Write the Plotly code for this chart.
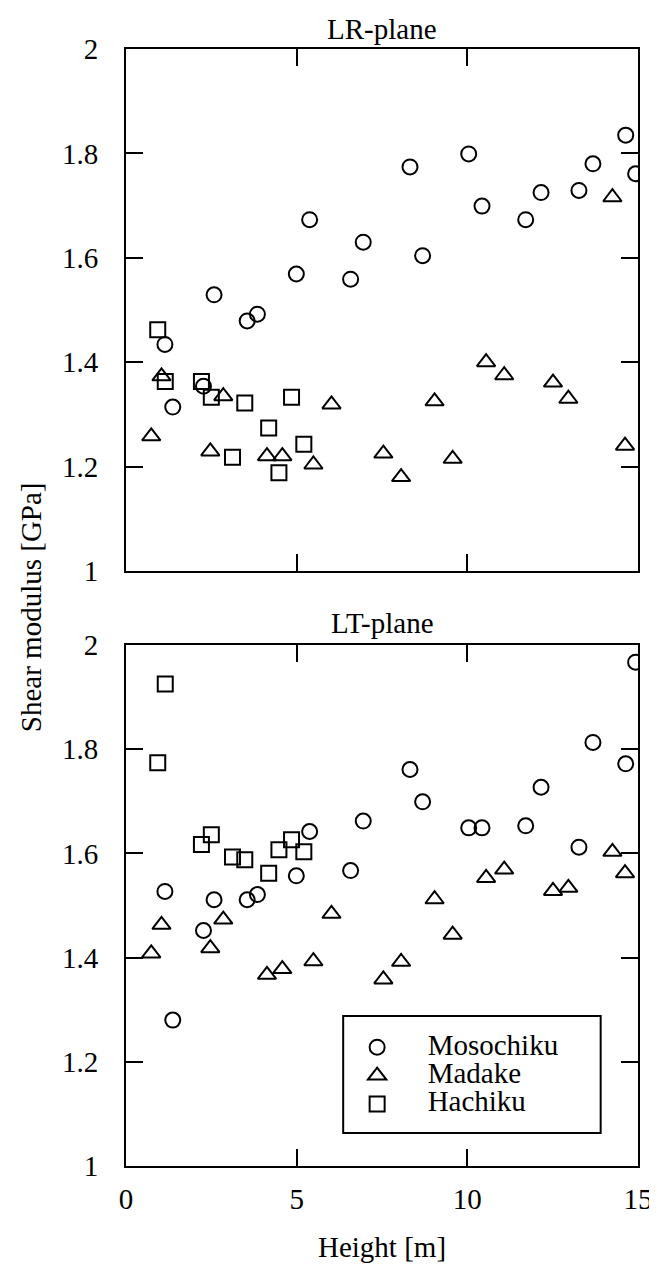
import plotly.graph_objects as go

# ---------------- data ----------------
moso_h = [1.14, 1.37, 2.27, 2.58, 3.55, 3.85, 4.99, 5.38, 6.58, 6.95,
          8.32, 8.69, 10.04, 10.43, 11.71, 12.16, 13.27, 13.68, 14.64, 14.93]
moso_lr = [1.434, 1.314, 1.354, 1.529, 1.479, 1.492, 1.569, 1.673, 1.559, 1.630,
           1.774, 1.604, 1.799, 1.699, 1.673, 1.725, 1.729, 1.780, 1.835, 1.761]
moso_lt = [1.527, 1.280, 1.452, 1.511, 1.511, 1.521, 1.557, 1.642, 1.567, 1.662,
           1.761, 1.699, 1.649, 1.649, 1.653, 1.727, 1.612, 1.813, 1.772, 1.967]

mada_h = [0.74, 1.04, 2.47, 2.85, 4.13, 4.58, 5.49, 6.02, 7.54, 8.06,
          9.04, 9.57, 10.55, 11.08, 12.51, 12.96, 14.25, 14.62]
mada_lr = [1.258, 1.373, 1.229, 1.335, 1.220, 1.220, 1.204, 1.319, 1.225, 1.180,
           1.325, 1.215, 1.400, 1.375, 1.361, 1.330, 1.716, 1.240]
mada_lt = [1.408, 1.463, 1.418, 1.473, 1.367, 1.378, 1.393, 1.484, 1.358, 1.392,
           1.512, 1.444, 1.553, 1.569, 1.528, 1.534, 1.603, 1.562]

hachi_h = [0.93, 1.15, 2.21, 2.50, 3.12, 3.48, 4.18, 4.48, 4.85, 5.21]
hachi_lr = [1.462, 1.363, 1.363, 1.333, 1.218, 1.322, 1.274, 1.188, 1.333, 1.243]
hachi_lt = [1.774, 1.925, 1.617, 1.636, 1.593, 1.588, 1.562, 1.607, 1.626, 1.603]

y_ticks = [1.0, 1.2, 1.4, 1.6, 1.8, 2.0]
y_ticktext = ["1", "1.2", "1.4", "1.6", "1.8", "2"]
x_ticks = [0, 5, 10, 15]
x_ticktext = ["0", "5", "10", "15"]

series_names = ["Mosochiku", "Madake", "Hachiku"]

FONT = "Liberation Serif, Times New Roman, serif"
FS = 29

W, H = 657, 1265
ml, mr, mt, mb = 118, 18, 41, 107
plot_w = W - ml - mr
plot_h = H - mt - mb


def px_x(p):
    return (p - ml) / plot_w


def px_y(p):
    return (H - mb - p) / plot_h


series = [
    (series_names[0], "circle-open", 15, moso_h, moso_lr, moso_lt),
    (series_names[1], "triangle-up-open", 16, mada_h, mada_lr, mada_lt),
    (series_names[2], "square-open", 15, hachi_h, hachi_lr, hachi_lt),
]

fig = go.Figure()
for name, sym, sz, h, lr, lt in series:
    mk = dict(symbol=sym, size=sz, color="black", line=dict(color="black", width=2))
    label = "&nbsp;&nbsp;&nbsp;&nbsp;<span style='font-size:%dpx'>%s</span>" % (FS, name)
    fig.add_trace(go.Scatter(x=h, y=lr, mode="markers", marker=mk, name=label,
                             legendgroup=name, showlegend=False, xaxis="x2", yaxis="y2"))
    fig.add_trace(go.Scatter(x=h, y=lt, mode="markers", marker=mk, name=label,
                             legendgroup=name, showlegend=True, xaxis="x", yaxis="y"))

top_dom = [px_y(563), 1.0]
bot_dom = [0.0, px_y(637)]

axis_common = dict(showline=True, linecolor="black", linewidth=2, mirror="ticks",
                   ticks="inside", ticklen=17, tickwidth=2, tickcolor="black",
                   showgrid=False, zeroline=False,
                   tickfont=dict(family=FONT, size=FS, color="black"))

fig.update_layout(
    width=W, height=H,
    margin=dict(l=ml, r=mr, t=mt, b=mb),
    plot_bgcolor="white", paper_bgcolor="white",
    font=dict(family=FONT, size=FS, color="black"),
    xaxis=dict(range=[0, 15], tickvals=x_ticks, ticktext=x_ticktext,
               ticklabelstandoff=6, anchor="y", **axis_common),
    yaxis=dict(range=[1, 2], tickvals=y_ticks, ticktext=y_ticktext, domain=bot_dom,
               ticklabelstandoff=20, anchor="x", **axis_common),
    xaxis2=dict(range=[0, 15], tickvals=x_ticks, showticklabels=False,
                anchor="y2", **axis_common),
    yaxis2=dict(range=[1, 2], tickvals=y_ticks, ticktext=y_ticktext, domain=top_dom,
                ticklabelstandoff=20, anchor="x2", **axis_common),
    legend=dict(x=px_x(342), y=px_y(1020), xanchor="left", yanchor="top",
                borderwidth=0, bgcolor="rgba(0,0,0,0)",
                font=dict(family=FONT, size=19.5, color="black"),
                itemwidth=52, tracegroupgap=0),
    shapes=[
        dict(type="rect", xref="paper", yref="paper",
             x0=px_x(339), x1=px_x(601), y0=px_y(1125), y1=px_y(1008),
             line=dict(color="black", width=2), fillcolor="rgba(0,0,0,0)", layer="below"),
    ],
    annotations=[
        dict(text="LR-plane", xref="x2 domain", yref="y2 domain", x=0.5, y=1,
             xanchor="center", yanchor="bottom", yshift=2, showarrow=False,
             font=dict(family=FONT, size=FS, color="black")),
        dict(text="LT-plane", xref="x domain", yref="y domain", x=0.5, y=1,
             xanchor="center", yanchor="bottom", yshift=4, showarrow=False,
             font=dict(family=FONT, size=FS, color="black")),
        dict(text="Shear modulus [GPa]", xref="paper", yref="paper",
             x=px_x(21), y=0.5, xanchor="center", yanchor="middle",
             textangle=-90, showarrow=False,
             font=dict(family=FONT, size=FS, color="black")),
        dict(text="Height [m]", xref="paper", yref="paper",
             x=0.5, y=px_y(1239), xanchor="center", yanchor="middle",
             showarrow=False, font=dict(family=FONT, size=FS, color="black")),
    ],
)

fig.write_html("out.html")
